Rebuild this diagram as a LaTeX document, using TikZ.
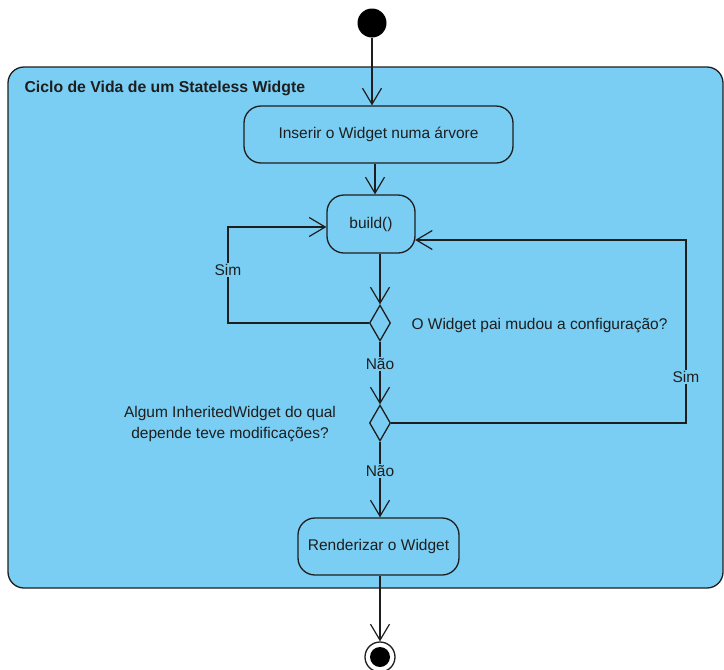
\documentclass[tikz,border=0pt]{standalone}
\usepackage{fontspec}
\setmainfont{Liberation Sans}
\usetikzlibrary{arrows.meta,shapes.geometric}
\definecolor{fbg}{RGB}{122,206,243}
\definecolor{ln}{RGB}{30,30,30}
\begin{document}
\begin{tikzpicture}[x=1pt,y=-1pt,
  font=\fontsize{15.5}{18}\selectfont, text=ln,
  frame/.style={draw=ln, line width=1.3pt, fill=fbg, rounded corners=16pt, inner sep=0, minimum width=715pt, minimum height=521pt},
  act/.style={draw=ln, line width=1.3pt, fill=fbg, rounded corners=17pt, inner sep=0},
  dec/.style={diamond, draw=ln, line width=1.3pt, fill=fbg, inner sep=0, minimum width=21pt, minimum height=36pt},
  flow/.style={draw=ln, line width=1.2pt, -{Straight Barb[length=16pt,width=19pt,line width=1.2pt]}},
  lbl/.style={fill=fbg, inner sep=1.5pt}]
\useasboundingbox (0,0) rectangle (724,670);
% container
\node[frame] (frame) at (365.5,327.5) {};
\node[anchor=west, font=\fontsize{15.8}{18}\selectfont\bfseries] (title) at (21,88) {Ciclo de Vida de um Stateless Widgte};
% nodes
\node[circle, fill=black, inner sep=0, minimum size=29pt] (init) at (372,23) {};
\node[act, minimum width=269pt, minimum height=57pt] (ins) at (378.5,134.5) {Inserir o Widget numa árvore};
\node[act, minimum width=88pt, minimum height=58pt] (build) at (371,224) {build()};
\node[dec] (d1) at (380,323) {};
\node[dec] (d2) at (380,423) {};
\node[act, minimum width=161pt, minimum height=57pt] (render) at (378.5,546.5) {Renderizar o Widget};
\node[circle, draw=ln, line width=1.3pt, fill=white, inner sep=0, minimum size=30pt] (final) at (380,657) {};
\node[circle, fill=black, inner sep=0, minimum size=20pt] (finalin) at (380,657) {};
% texts
\node[anchor=west] (q1) at (408,326) {O Widget pai mudou a configuração?};
\node[align=center, font=\fontsize{15.5}{21}\selectfont] (q2) at (230,424) {Algum InheritedWidget do qual\\depende teve modificações?};
% connectors
\draw[flow] (init.south) -- (init |- ins.north);
\draw[flow] ([xshift=-3.5pt]ins.south) -- ([xshift=4pt]build.north);
\draw[flow] (build.south -| d1) -- (d1.north);
\coordinate (lb) at (228,323);
\coordinate (lt) at (228,227);
\draw[flow] (d1.west) -- (lb) -- node[lbl, pos=0.55] (sim1) {Sim} (lt) -- (lt -| build.west);
\draw[flow] (d1.south) -- node[lbl, pos=0.36] (nao1) {Não} (d2.north);
\coordinate (rb) at (686,423);
\coordinate (rt) at (686,240);
\draw[flow] (d2.east) -- (rb) -- node[lbl, pos=0.25] (sim2) {Sim} (rt) -- ([xshift=-0.5pt]rt -| build.east);
\draw[flow] (d2.south) -- node[lbl, pos=0.39] (nao2) {Não} (d2 |- render.north);
\draw[flow] (render.south -| final) -- (final.north);
\end{tikzpicture}
\end{document}
